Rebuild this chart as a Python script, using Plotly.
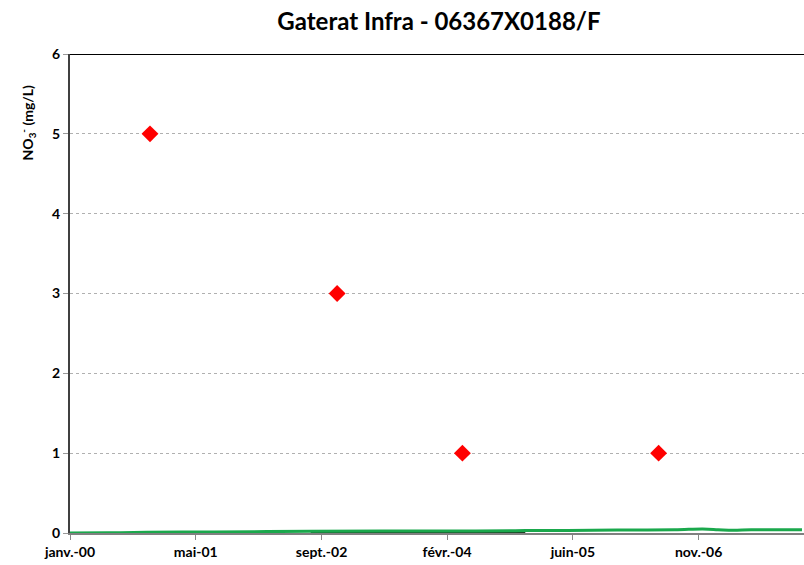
import plotly.graph_objects as go

# Sample results (NO3-, mg/L)
sample_dates = ["2000-11-14", "2002-11-28", "2004-04-09", "2006-05-29"]
sample_values = [5, 3, 1, 1]

# Continuous record (green)
trend_dates = ["2000-01-01", "2000-06-01", "2000-11-01", "2001-06-01", "2002-01-01",
               "2002-08-15", "2003-06-01", "2004-06-01", "2004-12-15", "2005-06-01",
               "2005-12-15", "2006-08-01", "2006-11-20", "2007-01-20", "2007-03-20",
               "2007-06-01", "2007-12-20"]
trend_values = [0.0, 0.003, 0.008, 0.013, 0.016, 0.022, 0.024, 0.025, 0.03, 0.032,
                0.038, 0.04, 0.05, 0.042, 0.033, 0.04, 0.042]

# Secondary record (dark)
dark_dates = ["2002-08-15", "2003-06-01", "2004-06-01", "2004-12-15"]
dark_values = [0.012, 0.013, 0.014, 0.014]

tick_dates = ["2000-01-01", "2001-05-15", "2002-09-27", "2004-02-08", "2005-06-22", "2006-11-04"]
tick_labels = ["janv.-00", "mai-01", "sept.-02", "févr.-04", "juin-05", "nov.-06"]
y_ticks = [0, 1, 2, 3, 4, 5, 6]

fig = go.Figure()
fig.add_trace(go.Scatter(x=dark_dates, y=dark_values, mode="lines",
                         line=dict(color="#1b3d22", width=3), hoverinfo="skip"))
fig.add_trace(go.Scatter(x=trend_dates, y=trend_values, mode="lines",
                         line=dict(color="#1aa84c", width=3, shape="spline"), hoverinfo="skip"))
fig.add_trace(go.Scatter(x=sample_dates, y=sample_values, mode="markers",
                         marker=dict(symbol="diamond", size=13, color="#ff0000"),
                         cliponaxis=False))

# dark top border of the plot area
fig.add_shape(type="line", xref="paper", yref="y", x0=0, x1=1, y0=6, y1=6,
              line=dict(color="black", width=2))

# y-axis label placed near the top of the axis
fig.add_annotation(text="<b>NO<sub>3</sub><sup>-</sup> (mg/L)</b>", textangle=-90,
                   xref="paper", yref="paper", x=-0.058, y=0.858,
                   xanchor="center", yanchor="middle", showarrow=False,
                   font=dict(family="Lato", size=14, color="black"))

fig.update_layout(
    width=804, height=565,
    margin=dict(l=70, r=0, t=54, b=32),
    paper_bgcolor="white", plot_bgcolor="white",
    showlegend=False,
    title=dict(text="<b>Gaterat Infra - 06367X0188/F</b>", x=0.546, xanchor="center",
               y=0.962, yanchor="middle",
               font=dict(family="Lato", size=24, color="black")),
    font=dict(family="Lato", color="black"),
)
fig.update_xaxes(
    type="date", range=["2000-01-01", "2007-12-28"],
    tickvals=tick_dates, ticktext=["<b>%s</b>" % t for t in tick_labels],
    tickfont=dict(family="Lato", size=14, color="black"),
    ticks="outside", ticklen=5, tickcolor="#888888", tickwidth=1,
    showline=True, linecolor="#808080", linewidth=2,
    showgrid=False, zeroline=False,
)
fig.update_yaxes(
    range=[0, 6], tickvals=y_ticks, ticktext=["<b>%d</b>" % v for v in y_ticks],
    tickfont=dict(family="Lato", size=14, color="black"),
    ticks="outside", ticklen=5, tickcolor="#999999", tickwidth=1,
    showline=True, linecolor="#404040", linewidth=2,
    showgrid=True, gridcolor="#b0b0b0", griddash="dot", gridwidth=1,
    zeroline=False,
)

fig.write_html("out.html")
